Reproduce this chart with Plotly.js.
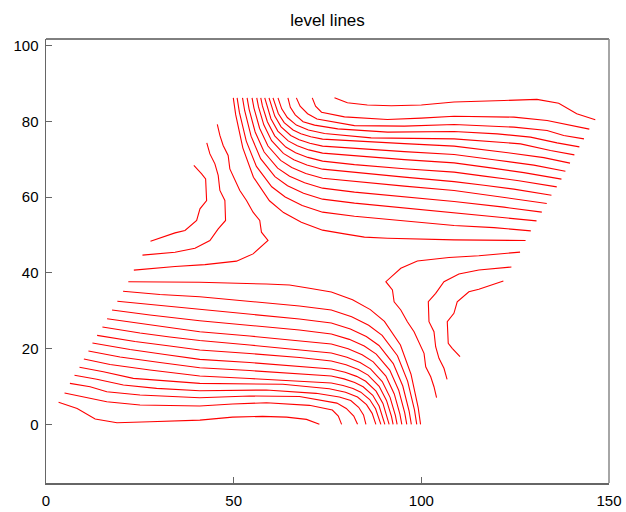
<!DOCTYPE html>
<html>
<head>
<meta charset="utf-8">
<script src="https://cdn.plot.ly/plotly-3.0.1.min.js"></script>
<style>html,body{margin:0;padding:0;background:#fff;}#chart{width:626px;height:512px;}</style>
</head>
<body>
<div id="chart"></div>
<script>
// Lower family of level lines (left edge -> bottom edge)
const lowX = [
  [3.35, 8.3, 13.1, 18.9, 27.7, 41.0, 49.7, 57.7, 64.1, 69.4, 72.84],
  [4.94, 9.98, 16.2, 25.04, 40.97, 49.73, 58.76, 70.18, 76.29, 77.88, 78.76],
  [6.37, 11.76, 16.2, 25.04, 40.97, 54.25, 67.52, 77.5, 80.0, 82.0, 83.0],
  [7.59, 13.54, 20.61, 29.47, 40.97, 58.68, 71.96, 78.15, 81.2, 83.3, 84.6, 85.24],
  [8.92, 15.29, 23.26, 40.97, 63.09, 75.49, 79.8, 83.0, 85.4, 86.9, 87.89],
  [10.09, 17.07, 27.7, 40.97, 54.25, 67.52, 76.02, 79.16, 81.79, 83.87, 86.24, 87.81, 88.86, 89.22],
  [11.31, 19.73, 30.35, 40.97, 54.25, 67.52, 76.02, 79.41, 82.25, 84.5, 87.06, 88.75, 89.89, 90.28],
  [12.37, 22.39, 31.68, 40.97, 54.25, 67.52, 76.02, 79.69, 82.75, 85.18, 87.94, 89.77, 91.0, 91.42],
  [13.62, 23.71, 33.01, 40.97, 54.25, 67.52, 76.02, 79.94, 83.21, 85.81, 88.76, 90.72, 92.04, 92.48],
  [15.03, 25.04, 33.01, 40.97, 54.25, 67.52, 76.02, 80.19, 83.68, 86.45, 89.59, 91.67, 93.08, 93.55],
  [16.28, 27.7, 40.97, 54.25, 67.52, 76.02, 80.49, 84.23, 87.19, 90.56, 92.79, 94.29, 94.8],
  [17.6, 27.7, 40.97, 54.25, 67.52, 76.02, 80.8, 84.8, 87.98, 91.58, 93.97, 95.58, 96.12],
  [19.01, 27.7, 40.97, 54.25, 67.52, 76.02, 81.09, 85.34, 88.71, 92.52, 95.06, 96.76, 97.34],
  [20.53, 30.35, 40.97, 54.25, 67.52, 76.02, 81.44, 85.97, 89.56, 93.64, 96.34, 98.17, 98.78],
  [21.93, 30.35, 40.97, 58.68, 64.87, 70.18, 76.02, 81.68, 86.41, 90.17, 94.43, 97.26, 99.16, 99.8]
];
const lowY = [
  [5.81, 4.2, 1.4, 0.4, 0.7, 1.1, 1.9, 2.1, 1.9, 1.3, 0],
  [8.27, 7.29, 5.97, 5.1, 4.84, 5.36, 5.71, 5.02, 3.78, 2.19, 0],
  [10.83, 9.93, 8.61, 7.74, 7.03, 7.48, 7.34, 5.6, 4.2, 2.2, 0],
  [12.95, 11.89, 10.38, 9.51, 8.88, 9.06, 8.19, 7.2, 6.3, 4.5, 2.5, 0],
  [15.06, 13.9, 12.15, 10.83, 10.57, 9.4, 8.5, 7.2, 5.2, 2.9, 0],
  [17.25, 15.8, 14.35, 12.76, 12.1, 11.44, 10.91, 10.27, 9.46, 8.49, 6.55, 4.12, 1.39, 0],
  [19.37, 17.78, 16.33, 14.95, 14.21, 13.42, 12.76, 12.01, 11.06, 9.93, 7.66, 4.82, 1.62, 0],
  [21.48, 19.76, 18.44, 17.17, 16.33, 15.4, 14.61, 13.75, 12.67, 11.37, 8.77, 5.52, 1.86, 0],
  [23.51, 21.88, 20.69, 19.63, 18.71, 17.65, 16.72, 15.73, 14.5, 13.01, 10.03, 6.32, 2.12, 0],
  [25.71, 24.12, 23.07, 22.14, 20.95, 19.76, 18.84, 17.73, 16.33, 14.66, 11.3, 7.12, 2.39, 0],
  [27.9, 26.24, 24.47, 23.33, 22.14, 21.22, 19.97, 18.4, 16.51, 12.73, 8.02, 2.69, 0],
  [30.2, 28.88, 27.37, 26.1, 24.91, 23.86, 22.45, 20.69, 18.56, 14.32, 9.02, 3.03, 0],
  [32.5, 31.65, 30.46, 29.14, 27.82, 26.76, 25.18, 23.2, 20.82, 16.06, 10.12, 3.4, 0],
  [35.14, 34.29, 33.71, 32.58, 31.26, 30.2, 28.42, 26.18, 23.5, 18.12, 11.42, 3.84, 0],
  [37.68, 37.6, 37.52, 37.07, 36.8, 35.93, 34.95, 32.89, 30.3, 27.19, 20.97, 13.21, 4.44, 0]
];

// Upper family of level lines (right edge -> top edge)
const upX = [
  [146.35, 141.4, 136.6, 130.8, 122.0, 108.7, 100.0, 92.0, 85.6, 80.3, 76.86],
  [144.76, 139.72, 133.5, 124.66, 108.73, 99.97, 90.94, 79.52, 73.41, 71.82, 70.94],
  [143.33, 137.94, 133.5, 124.66, 108.73, 95.45, 82.18, 72.2, 69.7, 67.7, 66.7],
  [142.11, 136.16, 129.09, 120.23, 108.73, 91.02, 77.74, 71.55, 68.5, 66.4, 65.1, 64.46],
  [140.78, 134.41, 126.44, 108.73, 86.61, 74.21, 69.9, 66.7, 64.3, 62.8, 61.81],
  [139.61, 132.63, 122.0, 108.73, 95.45, 82.18, 73.68, 70.54, 67.91, 65.83, 63.46, 61.89, 60.84, 60.48],
  [138.39, 129.97, 119.35, 108.73, 95.45, 82.18, 73.68, 70.29, 67.45, 65.2, 62.64, 60.95, 59.81, 59.42],
  [137.33, 127.31, 118.02, 108.73, 95.45, 82.18, 73.68, 70.01, 66.95, 64.52, 61.76, 59.93, 58.7, 58.28],
  [136.08, 125.99, 116.69, 108.73, 95.45, 82.18, 73.68, 69.76, 66.49, 63.89, 60.94, 58.98, 57.66, 57.22],
  [134.67, 124.66, 116.69, 108.73, 95.45, 82.18, 73.68, 69.51, 66.02, 63.25, 60.11, 58.03, 56.62, 56.15],
  [133.42, 122.0, 108.73, 95.45, 82.18, 73.68, 69.21, 65.47, 62.51, 59.14, 56.91, 55.41, 54.9],
  [132.1, 122.0, 108.73, 95.45, 82.18, 73.68, 68.9, 64.9, 61.72, 58.12, 55.73, 54.12, 53.58],
  [130.69, 122.0, 108.73, 95.45, 82.18, 73.68, 68.61, 64.36, 60.99, 57.18, 54.64, 52.94, 52.36],
  [129.17, 119.35, 108.73, 95.45, 82.18, 73.68, 68.26, 63.73, 60.14, 56.06, 53.36, 51.53, 50.92],
  [127.77, 119.35, 108.73, 91.02, 84.83, 79.52, 73.68, 68.02, 63.29, 59.53, 55.27, 52.44, 50.54, 49.9]
];
const upY = [
  [80.44, 82.05, 84.85, 85.85, 85.55, 85.15, 84.35, 84.15, 84.35, 84.95, 86.25],
  [77.98, 78.96, 80.28, 81.15, 81.41, 80.89, 80.54, 81.23, 82.47, 84.06, 86.25],
  [75.42, 76.32, 77.64, 78.51, 79.22, 78.77, 78.91, 80.65, 82.05, 84.05, 86.25],
  [73.3, 74.36, 75.87, 76.74, 77.37, 77.19, 78.06, 79.05, 79.95, 81.75, 83.75, 86.25],
  [71.19, 72.35, 74.1, 75.42, 75.68, 76.85, 77.75, 79.05, 81.05, 83.35, 86.25],
  [69.0, 70.45, 71.9, 73.49, 74.15, 74.81, 75.34, 75.98, 76.79, 77.76, 79.7, 82.13, 84.86, 86.25],
  [66.88, 68.47, 69.92, 71.3, 72.04, 72.83, 73.49, 74.24, 75.19, 76.32, 78.59, 81.43, 84.63, 86.25],
  [64.77, 66.49, 67.81, 69.08, 69.92, 70.85, 71.64, 72.5, 73.58, 74.88, 77.48, 80.73, 84.39, 86.25],
  [62.74, 64.37, 65.56, 66.62, 67.54, 68.6, 69.53, 70.52, 71.75, 73.24, 76.22, 79.93, 84.13, 86.25],
  [60.54, 62.13, 63.18, 64.11, 65.3, 66.49, 67.41, 68.52, 69.92, 71.59, 74.95, 79.13, 83.86, 86.25],
  [58.35, 60.01, 61.78, 62.92, 64.11, 65.03, 66.28, 67.85, 69.74, 73.52, 78.23, 83.56, 86.25],
  [56.05, 57.37, 58.88, 60.15, 61.34, 62.39, 63.8, 65.56, 67.69, 71.93, 77.23, 83.22, 86.25],
  [53.75, 54.6, 55.79, 57.11, 58.43, 59.49, 61.07, 63.05, 65.43, 70.19, 76.13, 82.85, 86.25],
  [51.11, 51.96, 52.54, 53.67, 54.99, 56.05, 57.83, 60.07, 62.75, 68.13, 74.83, 82.41, 86.25],
  [48.57, 48.65, 48.73, 49.18, 49.45, 50.32, 51.3, 53.36, 55.95, 59.06, 65.28, 73.04, 81.81, 86.25]
];

// Saddle-region level lines (right edge loops and left edge loops)
const saddleX = [
  [126.3, 115.32, 107.36, 98.94, 94.53, 90.55, 92.3, 92.75, 94.53, 96.28, 98.06, 99.39, 100.72, 101.17, 102.5, 103.37, 104.06],
  [124.0, 115.32, 110.01, 106.03, 103.82, 101.86, 102.04, 103.37, 103.82, 104.7, 106.03, 106.86],
  [121.86, 115.32, 112.67, 109.56, 108.68, 106.91, 107.17, 108.23, 110.31],
  [23.4, 34.38, 42.34, 50.76, 55.17, 59.15, 57.4, 56.95, 55.17, 53.42, 51.64, 50.31, 48.98, 48.53, 47.2, 46.33, 45.64],
  [25.7, 34.38, 39.69, 43.67, 45.88, 47.84, 47.66, 46.33, 45.88, 45.0, 43.67, 42.84],
  [27.84, 34.38, 37.03, 40.14, 41.02, 42.79, 42.53, 41.47, 39.39]
];
const saddleY = [
  [45.5, 44.54, 44.07, 43.14, 41.22, 37.68, 35.49, 32.39, 30.2, 27.11, 24.46, 21.4, 18.76, 15.22, 12.58, 9.93, 7.03],
  [41.56, 40.77, 39.71, 37.68, 34.61, 32.39, 27.11, 24.46, 20.5, 17.44, 14.8, 11.89],
  [37.86, 35.67, 35.03, 32.39, 29.33, 27.11, 21.4, 20.08, 17.86],
  [40.75, 41.71, 42.18, 43.11, 45.03, 48.57, 50.76, 53.86, 56.05, 59.14, 61.79, 64.85, 67.49, 71.03, 73.67, 76.32, 79.22],
  [44.69, 45.48, 46.54, 48.57, 51.64, 53.86, 59.14, 61.79, 65.75, 68.81, 71.45, 74.36],
  [48.39, 50.58, 51.22, 53.86, 56.92, 59.14, 64.85, 66.17, 68.39]
];

const xTicks = [0, 50, 100, 150];
const yTicks = [0, 20, 40, 60, 80, 100];
const chartTitle = "level lines";

const traces = [];
function addGroup(xs, ys) {
  for (let i = 0; i < xs.length; i++) {
    traces.push({
      type: 'scatter', mode: 'lines', x: xs[i], y: ys[i],
      line: {color: '#ff0000', width: 1.1},
      showlegend: false, hoverinfo: 'skip'
    });
  }
}
addGroup(lowX, lowY);
addGroup(upX, upY);
addGroup(saddleX, saddleY);

const font = {family: '"Liberation Sans", Arial, Helvetica, sans-serif', color: '#000'};
const layout = {
  width: 626, height: 512,
  margin: {l: 46, r: 17, t: 39, b: 29, pad: 0},
  paper_bgcolor: '#fff', plot_bgcolor: '#fff',
  font: font,
  title: {text: chartTitle, font: {family: font.family, size: 17, color: '#000'},
          x: 0.5, xref: 'paper', xanchor: 'center', y: 0.961, yref: 'container', yanchor: 'middle'},
  xaxis: {range: [0, 150], tickvals: xTicks, ticktext: xTicks.map(String),
          showgrid: false, zeroline: false, showline: true, linecolor: '#666', linewidth: 1.5,
          ticks: 'inside', ticklen: 6, tickcolor: '#666', tickfont: {family: font.family, size: 15, color: '#000'},
          ticklabelstandoff: 3},
  yaxis: {range: [-15.5, 101.8], tickvals: yTicks, ticktext: yTicks.map(String),
          showgrid: false, zeroline: false, showline: true, linecolor: '#666', linewidth: 1.5,
          ticks: 'inside', ticklen: 6, tickcolor: '#666', tickfont: {family: font.family, size: 15, color: '#000'},
          ticklabelstandoff: 3},
  shapes: [
    {type: 'line', xref: 'paper', yref: 'paper', x0: 0, x1: 1, y0: 1, y1: 1, line: {color: '#000', width: 1}},
    {type: 'line', xref: 'paper', yref: 'paper', x0: 1, x1: 1, y0: 0, y1: 1, line: {color: '#888', width: 1.5}}
  ]
};
Plotly.newPlot('chart', traces, layout, {displayModeBar: false, staticPlot: true});
</script>
</body>
</html>
